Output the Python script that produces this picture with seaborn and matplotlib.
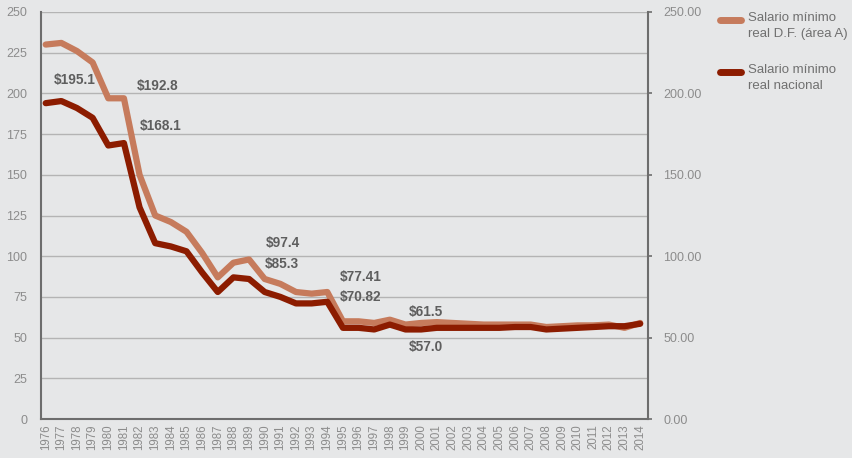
import numpy as np
import pandas as pd
import seaborn as sns
import matplotlib.pyplot as plt
from matplotlib.lines import Line2D

years = list(range(1976, 2015))
df_area_a = [230, 231, 226, 219, 197, 197, 150, 125, 121, 115, 102, 87, 96, 98,
             86, 83, 78, 77, 78, 60, 60, 59, 61, 58, 59, 59.5, 59, 58.5, 58,
             58, 58, 58, 56.5, 57, 57.5, 57.5, 58, 56, 59]
nacional = [194, 195.3, 191, 185, 168, 169.5, 130, 108, 106, 103, 90, 78, 87, 86,
            78, 75, 71, 71, 72, 56, 56, 55, 58, 55, 55, 56, 56, 56, 56,
            56, 56.5, 56.5, 55, 55.5, 56, 56.5, 57, 57, 58.5]

labels_txt = ["$195.1", "$192.8", "$168.1", "$97.4", "$85.3",
              "$77.41", "$70.82", "$61.5", "$57.0"]
labels_x = [1976.5, 1981.8, 1982.0, 1990.1, 1990.0, 1994.8, 1994.8, 1999.2, 1999.2]
labels_y = [208, 204.5, 180, 108, 95, 87, 75, 66, 44]

series_names = ["Salario mínimo\nreal D.F. (área A)", "Salario mínimo\nreal nacional"]
colors = ["#c67b5c", "#8c1c00"]

data = pd.DataFrame({"year": years * 2,
                     "valor": df_area_a + nacional,
                     "serie": [series_names[0]] * len(years) + [series_names[1]] * len(years)})

sns.set_style("white")
plt.rcParams["font.family"] = ["Liberation Sans", "DejaVu Sans"]
bg = "#e6e7e8"
fig = plt.figure(figsize=(8.53, 4.58), dpi=100, facecolor=bg)
ax = fig.add_axes([41 / 853, 1 - 419 / 458, (648 - 41) / 853, (419 - 12) / 458])
ax.set_facecolor(bg)

sns.lineplot(data=data, x="year", y="valor", hue="serie", palette=colors,
             linewidth=4.5, ax=ax, legend=False, solid_joinstyle="round",
             solid_capstyle="round", zorder=3)

ax.set_xlim(1975.7, 2014.5)
ax.set_ylim(0, 250)
ax.set_yticks(np.arange(0, 251, 25))
ax.set_xticks(years)
ax.set_xticklabels([str(y) for y in years], rotation=90)
ax.grid(axis="y", color="#b4b4b4", linewidth=1)
ax.set_axisbelow(True)
ax.tick_params(axis="y", length=0, pad=10, labelsize=9, labelcolor="#8c8c8c")
ax.tick_params(axis="x", length=0, pad=4, labelsize=8.3, labelcolor="#8c8c8c")
ax.set_xlabel("")
ax.set_ylabel("")
for side in ["left", "bottom"]:
    ax.spines[side].set_color("#6d6d6d")
    ax.spines[side].set_linewidth(1.5)
ax.spines["top"].set_visible(False)
ax.spines["right"].set_visible(False)

ax2 = ax.twinx()
ax2.set_ylim(0, 250)
ax2.set_yticks(np.arange(0, 251, 50))
ax2.set_yticklabels([f"{v:.2f}" for v in np.arange(0, 251, 50)])
ax2.tick_params(axis="y", length=3, width=1.2, color="#6d6d6d", pad=8,
                labelsize=9, labelcolor="#8c8c8c")
for side in ["left", "bottom", "top"]:
    ax2.spines[side].set_visible(False)
ax2.spines["right"].set_color("#6d6d6d")
ax2.spines["right"].set_linewidth(1.5)

for t, x, y in zip(labels_txt, labels_x, labels_y):
    ax.text(x, y, t, ha="left", va="center", fontsize=9.8, fontweight="bold",
            color="#5e5e5e", zorder=5)

# legend drawn by hand so the swatch sits on the first text line
for i, (name, c) in enumerate(zip(series_names, colors)):
    ytop = 1 - (20 + 52 * i) / 458
    fig.add_artist(Line2D([720 / 853, 741 / 853], [ytop, ytop], color=c,
                          linewidth=5, solid_capstyle="round"))
    fig.text(748 / 853, ytop + 8 / 458, name, ha="left", va="top", fontsize=9.5,
             color="#707070", linespacing=1.45)

fig.savefig("out.png", dpi=100, facecolor=bg)
